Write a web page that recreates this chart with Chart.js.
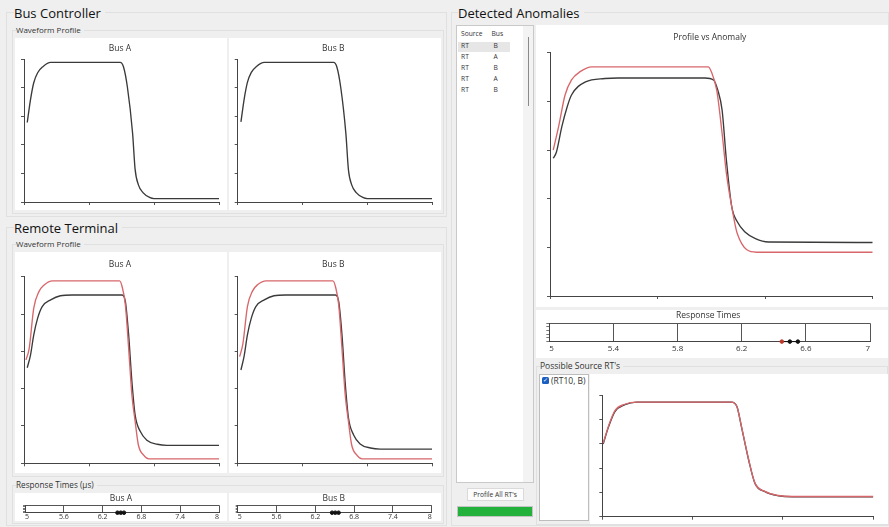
<!DOCTYPE html>
<html>
<head>
<meta charset="utf-8">
<title>Waveform Anomalies</title>
<script src="https://cdn.jsdelivr.net/npm/chart.js@4.4.1/dist/chart.umd.min.js"></script>
<style>
  body { margin: 0; width: 889px; height: 527px; overflow: hidden; background: #efefef; font-family: "Open Sans", sans-serif; color: #222; position: relative; }
  .grp { position: absolute; border: 1px solid #e0e0e0; box-sizing: border-box; }
  .hd { position: absolute; font-size: 13px; line-height: 16px; background: #efefef; padding-right: 4px; color: #111; }
  .lbl { position: absolute; font-size: 8px; line-height: 10px; background: #efefef; padding-right: 3px; color: #333; }
  .panel { position: absolute; background: #fff; }
  canvas { position: absolute; }
  .txt { position: absolute; font-size: 6.7px; line-height: 8px; color: #333; white-space: nowrap; }
</style>
</head>
<body>
<!-- group boxes -->
<div class="grp" style="left:6px;top:12px;width:441px;height:205px"></div>
<div class="grp" style="left:12px;top:30px;width:432px;height:184px"></div>
<div class="grp" style="left:6px;top:227px;width:441px;height:299px"></div>
<div class="grp" style="left:12px;top:244px;width:432px;height:233px"></div>
<div class="grp" style="left:12px;top:485px;width:432px;height:39px"></div>
<div class="grp" style="left:451px;top:12px;width:438px;height:514px"></div>
<div class="grp" style="left:536px;top:366px;width:352px;height:159px"></div>

<div class="hd" style="left:14px;top:5px">Bus Controller</div>
<div class="lbl" style="left:16px;top:25px">Waveform Profile</div>
<div class="hd" style="left:14px;top:220px">Remote Terminal</div>
<div class="lbl" style="left:16px;top:239px">Waveform Profile</div>
<div class="lbl" style="left:16px;top:480px;font-size:8.2px">Response Times (µs)</div>
<div class="hd" style="left:458px;top:5px">Detected Anomalies</div>
<div class="lbl" style="left:540px;top:360.5px;font-size:8.5px">Possible Source RT's</div>

<!-- white panels -->
<div class="panel" style="left:15px;top:38px;width:212px;height:172px"></div>
<div class="panel" style="left:229px;top:38px;width:212px;height:172px"></div>
<div class="panel" style="left:15px;top:252px;width:212px;height:221px"></div>
<div class="panel" style="left:229px;top:252px;width:212px;height:221px"></div>
<div class="panel" style="left:15px;top:493px;width:212px;height:28px"></div>
<div class="panel" style="left:229px;top:493px;width:212px;height:28px"></div>
<div class="panel" style="left:536px;top:25px;width:352px;height:282px"></div>
<div class="panel" style="left:536px;top:310px;width:352px;height:48px"></div>
<div class="panel" style="left:590px;top:374px;width:298px;height:150px"></div>

<!-- anomaly list -->
<div class="panel" style="left:456px;top:25px;width:78px;height:458px;border:1px solid #c9c9c9;box-sizing:border-box"></div>
<div class="panel" style="left:523px;top:26px;width:10px;height:456px;background:#f3f3f3"></div>
<div class="panel" style="left:527.5px;top:37px;width:1.5px;height:69px;background:#8a8a8a"></div>
<div class="panel" style="left:458px;top:41.5px;width:52px;height:10px;background:#e6e6e6"></div>
<div class="txt" style="left:461px;top:30px">Source</div>
<div class="txt" style="left:491.5px;top:30px">Bus</div>
<div id="rows"></div>

<div class="panel" style="left:466.5px;top:488px;width:57px;height:13px;border:1px solid #dadada;box-sizing:border-box;background:#fcfcfc"></div>
<div class="txt" style="left:466.5px;top:490.5px;width:57px;text-align:center">Profile All RT's</div>
<div class="panel" style="left:456.5px;top:505.5px;width:76px;height:11.5px;background:#22b23c;border:1px solid #c4c4c4;box-sizing:border-box"></div>

<!-- possible sources list -->
<div class="panel" style="left:539px;top:374px;width:50px;height:147px;border:1px solid #bdbdbd;box-sizing:border-box"></div>
<div class="panel" style="left:541.5px;top:376.5px;width:7px;height:7px;background:#1a5fc0;border-radius:1.5px;color:#fff;font-size:6px;line-height:7px;text-align:center">&#10003;</div>
<div class="txt" style="left:551px;top:375.5px;font-size:8.5px;line-height:10px">(RT10, B)</div>

<canvas id="bcA" width="212" height="172" style="left:15px;top:38px"></canvas>
<canvas id="bcB" width="212" height="172" style="left:229px;top:38px"></canvas>
<canvas id="rtA" width="212" height="221" style="left:15px;top:252px"></canvas>
<canvas id="rtB" width="212" height="221" style="left:229px;top:252px"></canvas>
<canvas id="respA" width="212" height="29" style="left:15px;top:493px"></canvas>
<canvas id="respB" width="212" height="29" style="left:229px;top:493px"></canvas>
<canvas id="anomaly" width="352" height="282" style="left:536px;top:25px"></canvas>
<canvas id="respAnomaly" width="352" height="48" style="left:536px;top:310px"></canvas>
<canvas id="source" width="298" height="150" style="left:590px;top:374px"></canvas>

<script>
// Bus Controller waveform profiles
const bcTimeA = [0.05, 0.10, 0.15, 0.21, 0.29, 0.41, 1.48, 1.53, 1.59, 1.67, 1.71, 1.76, 1.83, 1.94, 2.00, 3.00];
const bcLevelA = [2.78, 3.58, 4.17, 4.52, 4.73, 4.88, 4.88, 4.73, 4.03, 2.42, 1.13, 0.60, 0.33, 0.15, 0.12, 0.12];
const bcTimeB = [0.05, 0.10, 0.15, 0.21, 0.29, 0.41, 1.48, 1.53, 1.59, 1.67, 1.71, 1.76, 1.83, 1.94, 2.00, 3.00];
const bcLevelB = [2.80, 3.60, 4.18, 4.53, 4.74, 4.88, 4.88, 4.73, 4.02, 2.40, 1.12, 0.60, 0.33, 0.15, 0.12, 0.12];

// Remote Terminal waveform profiles (red = anomaly, black = profile)
const rtTimeRedA = [0.03, 0.08, 0.15, 0.23, 0.31, 0.44, 1.47, 1.51, 1.56, 1.61, 1.66, 1.71, 1.76, 1.84, 1.92, 3.00];
const rtLevelRedA = [2.77, 3.08, 4.16, 4.60, 4.78, 4.89, 4.89, 4.73, 4.24, 3.08, 1.83, 1.12, 0.49, 0.22, 0.12, 0.12];
const rtTimeBlackA = [0.05, 0.10, 0.15, 0.21, 0.28, 0.41, 0.56, 0.74, 1.51, 1.56, 1.61, 1.66, 1.71, 1.79, 1.89, 2.05, 2.20, 3.00];
const rtLevelBlackA = [2.56, 2.90, 3.44, 3.89, 4.20, 4.38, 4.49, 4.51, 4.51, 4.33, 3.44, 2.19, 1.29, 0.85, 0.62, 0.51, 0.48, 0.48];
const rtTimeRedB = [0.03, 0.08, 0.15, 0.23, 0.31, 0.44, 1.47, 1.51, 1.56, 1.61, 1.66, 1.71, 1.76, 1.84, 1.92, 3.00];
const rtLevelRedB = [2.86, 3.20, 4.20, 4.62, 4.79, 4.89, 4.89, 4.73, 4.24, 3.08, 1.83, 1.12, 0.49, 0.22, 0.12, 0.12];
const rtTimeBlackB = [0.05, 0.10, 0.15, 0.21, 0.28, 0.41, 0.56, 0.74, 1.51, 1.56, 1.61, 1.66, 1.71, 1.79, 1.89, 2.05, 2.20, 3.00];
const rtLevelBlackB = [2.50, 2.88, 3.44, 3.89, 4.20, 4.38, 4.49, 4.51, 4.51, 4.33, 3.44, 2.15, 1.22, 0.76, 0.52, 0.41, 0.38, 0.38];

// Response times (µs)
const respTimesA = [6.43, 6.48, 6.53];
const respTimesB = [6.46, 6.51, 6.56];
const respTimesAnomaly = [6.45, 6.50, 6.55];
const respColorsAnomaly = ["#c0392b", "#111", "#111"];

// Profile vs Anomaly
const anTimeRed = [0.03, 0.08, 0.14, 0.20, 0.28, 0.39, 1.47, 1.50, 1.55, 1.60, 1.64, 1.69, 1.74, 1.92, 3.00];
const anLevelRed = [3.00, 3.48, 4.13, 4.44, 4.61, 4.71, 4.71, 4.61, 4.23, 3.34, 2.52, 1.83, 1.29, 0.90, 0.90];
const anTimeBlack = [0.03, 0.06, 0.11, 0.16, 0.20, 0.33, 0.51, 0.63, 1.44, 1.52, 1.56, 1.60, 1.64, 1.69, 1.74, 1.81, 1.91, 2.03, 3.00];
const anLevelBlack = [2.83, 2.96, 3.48, 3.89, 4.13, 4.40, 4.47, 4.48, 4.48, 4.44, 4.23, 3.82, 2.79, 1.83, 1.53, 1.32, 1.18, 1.11, 1.10];

// Possible source (RT10, B)
const srcTime = [0.01, 0.07, 0.14, 0.25, 0.38, 1.43, 1.49, 1.54, 1.62, 1.69, 1.80, 1.95, 2.10, 3.00];
const srcLevelBlack = [2.99, 3.70, 4.32, 4.60, 4.71, 4.71, 4.53, 3.70, 2.33, 1.37, 1.03, 0.86, 0.82, 0.82];
const srcLevelRed = [3.02, 3.74, 4.36, 4.62, 4.71, 4.71, 4.53, 3.72, 2.35, 1.38, 1.04, 0.87, 0.83, 0.83];

// anomaly list
const anomalySources = ["RT", "RT", "RT", "RT", "RT"];
const anomalyBuses = ["B", "A", "B", "A", "B"];

const RED = "#d8676b";
const BLACK = "#3a3a3a";
const FONT = "Open Sans";

const rows = document.getElementById("rows");
anomalySources.forEach((s, i) => {
  const top = 42.3 + i * 10.8;
  rows.insertAdjacentHTML("beforeend",
    `<div class="txt" style="left:461px;top:${top}px">${s}</div>` +
    `<div class="txt" style="left:493.5px;top:${top}px">${anomalyBuses[i]}</div>`);
});

function series(xs, ys, color) {
  return {
    data: xs.map((t, i) => ({ x: t, y: ys[i] })),
    borderColor: color,
    borderWidth: 1.35,
    pointRadius: 0,
    cubicInterpolationMode: "monotone",
    fill: false,
  };
}

function axisGrid() {
  return { drawOnChartArea: false, drawTicks: true, tickLength: 3, color: "#555", lineWidth: 1 };
}

function profileChart(id, title, datasets, titlePad, pad) {
  new Chart(document.getElementById(id), {
    type: "line",
    data: { datasets: datasets },
    options: {
      responsive: false,
      animation: false,
      events: [],
      layout: { padding: pad },
      plugins: {
        legend: { display: false },
        tooltip: { enabled: false },
        title: {
          display: !!title,
          text: title,
          color: "#333",
          font: { family: FONT, size: 8.5, weight: "normal" },
          padding: titlePad,
        },
      },
      scales: {
        x: {
          type: "linear",
          min: 0,
          max: 3,
          ticks: { display: false, stepSize: 1 },
          grid: axisGrid(),
          border: { display: true, color: "#444", width: 1 },
        },
        y: {
          min: 0,
          max: 5,
          ticks: { display: false, stepSize: 1 },
          grid: axisGrid(),
          border: { display: true, color: "#444", width: 1 },
        },
      },
    },
  });
}

function responseChart(id, title, times, colors, min, max, step, fontSize, titlePad, tickPad, pad, tickLen) {
  new Chart(document.getElementById(id), {
    type: "line",
    data: {
      datasets: [{
        data: times.map((t) => ({ x: t, y: 0 })),
        showLine: true,
        borderColor: "#111",
        borderWidth: 1,
        pointRadius: 1.8,
        pointBackgroundColor: colors,
        pointBorderColor: colors,
        clip: false,
      }],
    },
    options: {
      responsive: false,
      animation: false,
      events: [],
      layout: { padding: pad },
      plugins: {
        legend: { display: false },
        tooltip: { enabled: false },
        title: {
          display: true,
          text: title,
          color: "#333",
          font: { family: FONT, size: 8.5, weight: "normal" },
          padding: titlePad,
        },
      },
      scales: {
        x: {
          type: "linear",
          min: min,
          max: max,
          ticks: {
            stepSize: step,
            align: "inner",
            padding: tickPad,
            color: "#333",
            font: { family: FONT, size: fontSize },
            maxRotation: 0,
            callback: (v) => String(+v.toFixed(2)),
          },
          grid: { drawOnChartArea: true, drawTicks: false, color: "#555" },
          border: { color: "#444" },
        },
        y: {
          min: 0,
          max: 5,
          ticks: { display: false, stepSize: 1 },
          grid: {
            drawOnChartArea: true,
            drawTicks: true,
            tickLength: tickLen,
            color: (c) => (c.tick && c.tick.value === 5 ? "#555" : "rgba(0,0,0,0)"),
            tickColor: "#777",
          },
          border: { color: "#444" },
        },
      },
    },
  });
}

const bcPad = { left: 6, right: 8, top: 0, bottom: 5 };
const bcTitle = { top: 5.9, bottom: 4.9 };
profileChart("bcA", "Bus A", [series(bcTimeA, bcLevelA, BLACK)], bcTitle, bcPad);
profileChart("bcB", "Bus B", [series(bcTimeB, bcLevelB, BLACK)], bcTitle, { left: 5.7, right: 9, top: 0, bottom: 5 });

const rtPad = { left: 6, right: 8, top: 0, bottom: 6.7 };
const rtTitle = { top: 7.9, bottom: 6.6 };
profileChart("rtA", "Bus A", [series(rtTimeRedA, rtLevelRedA, RED), series(rtTimeBlackA, rtLevelBlackA, BLACK)], rtTitle, rtPad);
profileChart("rtB", "Bus B", [series(rtTimeRedB, rtLevelRedB, RED), series(rtTimeBlackB, rtLevelBlackB, BLACK)], rtTitle, { left: 5.7, right: 9, top: 0, bottom: 6.7 });

responseChart("respA", "Bus A", respTimesA, "#111", 5, 8, 0.6, 7, { top: 0.9, bottom: 1.2 }, 0, { left: 8, right: 8, top: 0, bottom: 0.9 }, 2);
responseChart("respB", "Bus B", respTimesB, "#111", 5, 8, 0.6, 7, { top: 0.9, bottom: 1.2 }, 0, { left: 6.7, right: 9.3, top: 0, bottom: 0.9 }, 2);

profileChart("anomaly", "Profile vs Anomaly",
  [series(anTimeRed, anLevelRed, RED), series(anTimeBlack, anLevelBlack, BLACK)],
  { top: 7.6, bottom: 9.9 }, { left: 11, right: 15.3, top: 0, bottom: 8 });

responseChart("respAnomaly", "Response Times", respTimesAnomaly, respColorsAnomaly, 5, 7, 0.4, 8,
  { top: 0.9, bottom: 2.2 }, 1.9, { left: 10.3, right: 18, top: 0, bottom: 3 }, 3);

profileChart("source", "",
  [series(srcTime, srcLevelRed, RED), series(srcTime, srcLevelBlack, BLACK)],
  { top: 0, bottom: 0 }, { left: 9.3, right: 14.7, top: 21, bottom: 4.3 });
</script>
</body>
</html>
